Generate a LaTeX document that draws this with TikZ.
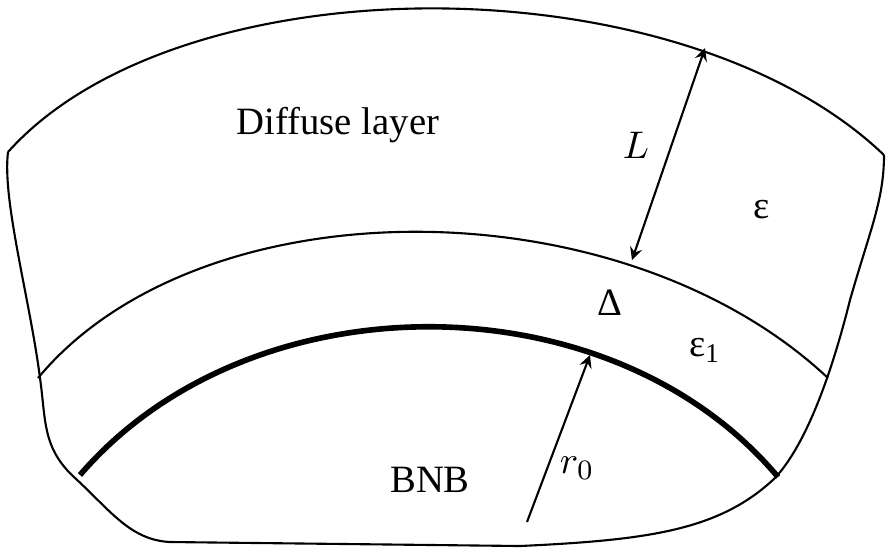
\documentclass[tikz,border=0pt]{standalone}
\usepackage{fontspec}
\setmainfont{Liberation Serif}
\usetikzlibrary{arrows}
\begin{document}
\begin{tikzpicture}[x=0.01cm,y=-0.01cm,line width=0.6pt]
	\tikzstyle{every node}=[font=\fontsize{11}{13}\selectfont]
	\tikzstyle{bdry}=[line width=0.6pt]
	\useasboundingbox (0,0) rectangle (887,547);
	% outer border
	\draw[bdry] (8,152) .. controls (180,-40) and (680,-40) .. (884,155);
	\draw[bdry] (8,152) .. controls (2,200) and (30,300) .. (40,378)
		.. controls (46,420) and (42,448) .. (75,478)
		.. controls (110,510) and (130,540) .. (170,542)
		-- (520,546) .. controls (650,540) and (720,530) .. (775,478)
		.. controls (810,440) and (835,360) .. (850,300)
		.. controls (870,230) and (884,200) .. (884,155);
	% layer boundaries
	\draw[bdry] (38,378) .. controls (200,183) and (620,183) .. (828,378);
	\draw[line width=1.6pt] (80,475) .. controls (250,277) and (610,277) .. (778,477);
	% arrows
	\coordinate (la) at (632,260);
	\coordinate (lb) at (705,48);
	\coordinate (ra) at (527,522);
	\coordinate (rb) at (590,355);
	\draw[<->,>=stealth] (la) -- (lb);
	\draw[->,>=stealth] (ra) -- (rb);
	% labels
	\node (diff) at (338,125) {Diffuse layer};
	\node (lab) at (636,145) {$L$};
	\node (eps) at (762,210) {ε};
	\node (del) at (610,303) {Δ};
	\node (eps1) at (705,350) {ε\textsubscript{1}};
	\node (bnb) at (430,480) {BNB};
	\node (rad) at (577,468) {$r_0$};
\end{tikzpicture}
\end{document}
